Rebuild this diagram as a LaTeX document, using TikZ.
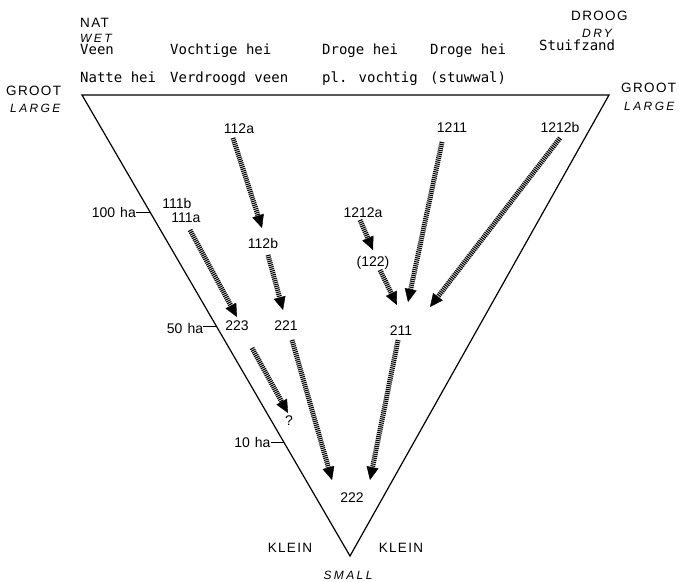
\documentclass[tikz,border=0pt]{standalone}
\usepackage{fontspec}
\setmainfont{Liberation Sans}
\newfontfamily\capsf[LetterSpace=10]{Liberation Sans}
\newfontfamily\itsf[LetterSpace=20]{Liberation Sans}
\newfontfamily\monof{DejaVu Sans Mono}
\usetikzlibrary{arrows.meta,calc}
\tikzset{
  capslbl/.style={font=\capsf\fontsize{13.5}{16}\selectfont, inner sep=0pt, anchor=base west},
  itlbl/.style={font=\itsf\itshape\fontsize{12}{14}\selectfont, inner sep=0pt, anchor=base west},
  monolbl/.style={font=\monof\fontsize{14}{16}\selectfont, inner sep=0pt, anchor=base west},
  numlbl/.style={font=\fontsize{14}{16}\selectfont, inner sep=0pt, anchor=base},
  halbl/.style={font=\fontsize{14}{16}\selectfont, inner sep=0pt, anchor=east},
  edge/.style={line width=1.2pt, line join=miter},
  tick/.style={line width=1pt},
  hatch/.style={line width=5pt, dash pattern=on 1.1pt off 0.9pt,
    -{Triangle[length=13pt,width=12pt,line width=0.4pt]}}
}
\begin{document}
\begin{tikzpicture}[x=1pt,y=-1pt]
\useasboundingbox (0,0) rectangle (679,581);
% triangle
\coordinate (TL) at (82,95);
\coordinate (TR) at (609,95);
\coordinate (B) at (350,556);
\draw[edge] (TL) -- (TR) -- (B) -- cycle;
% ticks on left edge
\coordinate (t100) at ($(TL)!0.2538!(B)$);
\coordinate (t50) at ($(TL)!0.5011!(B)$);
\coordinate (t10) at ($(TL)!0.7527!(B)$);
\draw[tick] (t100) -- ++(-14,0) coordinate (t100e);
\draw[tick] (t50) -- ++(-13,0) coordinate (t50e);
\draw[tick] (t10) -- ++(-13,0) coordinate (t10e);
\node[halbl] (h100) at (t100e) {100\hspace{5pt}ha};
\node[halbl] (h50) at ([yshift=-2pt]t50e) {50\hspace{5pt}ha};
\node[halbl] (h10) at (t10e) {10\hspace{5pt}ha};
% header texts
\node[capslbl] (nat) at (80,27) {NAT};
\node[itlbl] (wet) at (80,42) {WET};
\node[monolbl] (veen) at (80,54) {Veen};
\node[monolbl] (natte) at (80,82) {Natte hei};
\node[monolbl] (vocht) at (170,54) {Vochtige hei};
\node[monolbl] (verdr) at (170,82) {Verdroogd veen};
\node[monolbl] (droge1) at (322,54) {Droge hei};
\node[monolbl] (plv) at (322,82) {pl. vochtig};
\node[monolbl] (droge2) at (430,54) {Droge hei};
\node[monolbl] (stuw) at (430,82) {(stuwwal)};
\node[monolbl] (stuif) at (539,50) {Stuifzand};
\node[capslbl] (droog) at (571,20) {DROOG};
\node[itlbl] (dry) at (582,37) {DRY};
\node[capslbl] (grootL) at (6,95) {GROOT};
\node[itlbl] (largeL) at (10,112) {LARGE};
\node[capslbl] (grootR) at (621,92) {GROOT};
\node[itlbl] (largeR) at (624,110) {LARGE};
\node[capslbl, anchor=base] (kleinL) at (290,552) {KLEIN};
\node[capslbl, anchor=base] (kleinR) at (401,552) {KLEIN};
\node[itlbl, anchor=base] (small) at (348,579) {SMALL};
% numbered labels
\node[numlbl] (n112a) at (239,133) {112a};
\node[numlbl] (n111b) at (177,208) {111b};
\node[numlbl] (n111a) at (186,222) {111a};
\node[numlbl] (n112b) at (263,248) {112b};
\node[numlbl] (n223) at (237,330) {223};
\node[numlbl] (n221) at (286,330) {221};
\node[numlbl] (n1211) at (452,132) {1211};
\node[numlbl] (n1212b) at (560,132) {1212b};
\node[numlbl] (n1212a) at (363,217) {1212a};
\node[numlbl] (n122) at (373,266) {(122)};
\node[numlbl] (n211) at (401,335) {211};
\node[numlbl] (nq) at (289,425) {?};
\node[numlbl] (n222) at (352,502) {222};
% arrows
\draw[hatch] ([shift={(-6,5)}]n112a.base) -- ([shift={(-1,-20)}]n112b.base);
\draw[hatch] ([shift={(4,8)}]n111a.base) -- ([shift={(0,-13)}]n223.base);
\draw[hatch] ([shift={(5,7)}]n112b.base) -- ([shift={(-3,-20)}]n221.base);
\draw[hatch] ([shift={(15,18)}]n223.base) -- ([shift={(-1,-12)}]nq.base);
\draw[hatch] ([shift={(6,10)}]n221.base) -- ([shift={(-20,-22)}]n222.base);
\draw[hatch] ([shift={(-3,5)}]n211.base) -- ([shift={(18,-22)}]n222.base);
\draw[hatch] ([shift={(-3,3)}]n1212a.base) -- ([shift={(0,-16)}]n122.base);
\draw[hatch] ([shift={(7,4)}]n122.base) -- ([shift={(-4,-30)}]n211.base);
\draw[hatch] ([shift={(-10,10)}]n1211.base) -- ([shift={(7,-33)}]n211.base);
\draw[hatch] ([shift={(0,6)}]n1212b.base) -- ([shift={(29,-28)}]n211.base);
\end{tikzpicture}
\end{document}
